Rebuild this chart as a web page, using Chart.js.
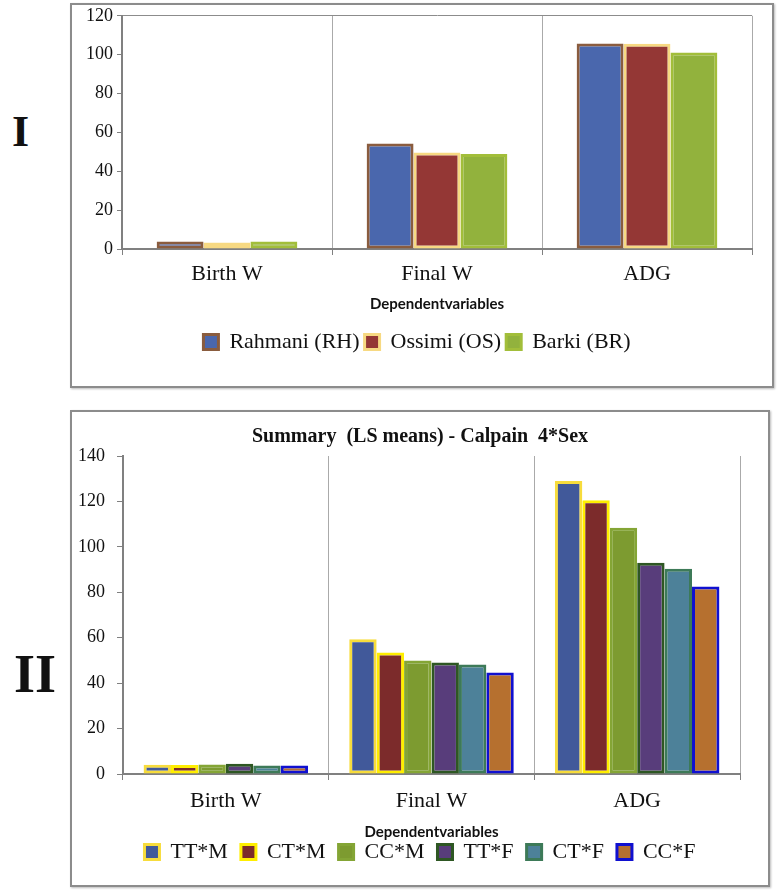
<!DOCTYPE html>
<html>
<head>
<meta charset="utf-8">
<script src="https://cdn.jsdelivr.net/npm/chart.js@4"></script>
<style>
body { margin:0; background:#fff; width:779px; height:890px; position:relative; overflow:hidden; }
.panel { position:absolute; border:2px solid #8c8c8c; box-shadow:1px 1px 2px #bbb; }
.roman { position:absolute; font-family:'Liberation Serif', serif; font-weight:bold; color:#111; line-height:1; }
canvas { position:absolute; }
</style>
</head>
<body>
<div class="roman" style="left:12px;top:110px;font-size:44px;">I</div>
<div class="roman" style="left:14px;top:647px;font-size:54px;">II</div>
<div class="panel" style="left:70px;top:3px;width:700px;height:381px;"></div>
<div class="panel" style="left:70px;top:410px;width:696px;height:473px;"></div>
<canvas id="chart1" width="699" height="384" style="left:72px;top:1px;"></canvas>
<canvas id="chart2" width="695" height="472" style="left:72px;top:412px;"></canvas>
<script>
// shared categories
var categories = ['Birth W', 'Final W', 'ADG'];

// panel I - breeds
var breedNames = ['Rahmani (RH)', 'Ossimi (OS)', 'Barki (BR)'];
var rahmani = [3.9, 54.3, 105.8];
var ossimi = [3.4, 49.6, 105.6];
var barki = [3.9, 48.9, 101.1];
var yTicks1 = [0, 20, 40, 60, 80, 100, 120];

// panel II - calpain 4 genotype * sex
var genoNames = ['TT*M', 'CT*M', 'CC*M', 'TT*F', 'CT*F', 'CC*F'];
var ttM = [4.1, 59.3, 129.0];
var ctM = [4.0, 53.5, 120.5];
var ccM = [4.2, 50.0, 108.4];
var ttF = [4.5, 49.1, 93.0];
var ctF = [3.7, 48.2, 90.4];
var ccF = [3.7, 44.7, 82.6];
var yTicks2 = [0, 20, 40, 60, 80, 100, 120, 140];

function bar(label, data, fill, edge) {
  return {
    label: label, data: data,
    backgroundColor: fill, borderColor: edge, borderWidth: 3,
    borderSkipped: false,
    categoryPercentage: 0.67, barPercentage: 1.0
  };
}

function makeOptions(o) {
  var yMax = o.ticks[o.ticks.length - 1];
  var scales = {
    x: {
      grid: { offset: true, color: '#aaa', lineWidth: 1, tickColor: '#808080', tickLength: 6 },
      border: { color: '#808080', width: 2 },
      ticks: { font: { family: 'Liberation Serif', size: 22 }, color: '#111', padding: o.xTickPad },
      title: {
        display: true, text: 'Dependentvariables', color: '#111',
        font: { family: 'Lato', size: 15, weight: 'bold' },
        padding: { top: 0, bottom: o.titlePad }
      },
      afterFit: function (s) { s.height = o.xHeight; }
    },
    y: {
      min: o.ticks[0], max: yMax, ticks: {
        stepSize: o.ticks[1] - o.ticks[0],
        font: { family: 'Liberation Serif', size: 18 }, color: '#111', padding: o.yTickPad
      },
      grid: {
        color: function (c) { return (o.topLine && c.tick && c.tick.value === yMax) ? '#8c8c8c' : 'transparent'; },
        tickColor: '#808080', tickLength: o.yTickLen
      },
      border: { color: '#808080', width: 2 },
      afterFit: function (s) { s.width = o.yWidth; }
    }
  };
  if (o.rightSpace) {
    // empty right-hand strip so the title and legend sit centred like the original
    scales.ySpace = {
      position: 'right', display: true,
      grid: { display: false }, border: { display: false }, ticks: { display: false },
      afterFit: function (s) { s.width = o.rightSpace; }
    };
  }
  return {
    responsive: false,
    animation: false,
    layout: { padding: o.padding },
    plugins: {
      title: o.title ? {
        display: true, text: o.title, color: '#111',
        font: { family: 'Liberation Serif', size: 20, weight: 'bold' },
        padding: { top: 13, bottom: 7 }
      } : { display: false },
      legend: {
        position: 'bottom',
        labels: {
          font: { family: 'Liberation Serif', size: 22 },
          color: '#111', boxWidth: 15, boxHeight: 15, padding: o.legendPad
        }
      },
      tooltip: { enabled: false }
    },
    scales: scales
  };
}

new Chart(document.getElementById('chart1').getContext('2d'), {
  type: 'bar',
  data: {
    labels: categories,
    datasets: [
      bar(breedNames[0], rahmani, '#4a67ad', '#8a5c3e'),
      bar(breedNames[1], ossimi, '#943735', '#f7d982'),
      bar(breedNames[2], barki, '#92b23d', '#a2be3a')
    ]
  },
  options: makeOptions({
    ticks: yTicks1, topLine: true,
    padding: { left: 10, right: 19, top: 10, bottom: 22 },
    legendPad: 5, xTickPad: 6, xHeight: 77, titlePad: 13,
    yWidth: 40, yTickPad: 4, yTickLen: 5
  })
});

var ds2 = [
  bar(genoNames[0], ttM, '#41599a', '#f7dc3c'),
  bar(genoNames[1], ctM, '#7c2b2b', '#ffee00'),
  bar(genoNames[2], ccM, '#7d9b30', '#84a535'),
  bar(genoNames[3], ttF, '#583d7b', '#2e5723'),
  bar(genoNames[4], ctF, '#4d8199', '#3d7a58'),
  bar(genoNames[5], ccF, '#b6702f', '#1010d0')
];
ds2.forEach(function (d) { d.categoryPercentage = 0.8; });

new Chart(document.getElementById('chart2').getContext('2d'), {
  type: 'bar',
  data: { labels: categories, datasets: ds2 },
  options: makeOptions({
    ticks: yTicks2, topLine: false,
    title: 'Summary  (LS means) - Calpain  4*Sex',
    padding: { left: 6, right: 5, top: 0, bottom: 11 },
    legendPad: 13, xTickPad: 8, xHeight: 54, titlePad: -13,
    yWidth: 45, yTickPad: 12, yTickLen: 6, rightSpace: 22
  })
});
</script>
</body>
</html>
